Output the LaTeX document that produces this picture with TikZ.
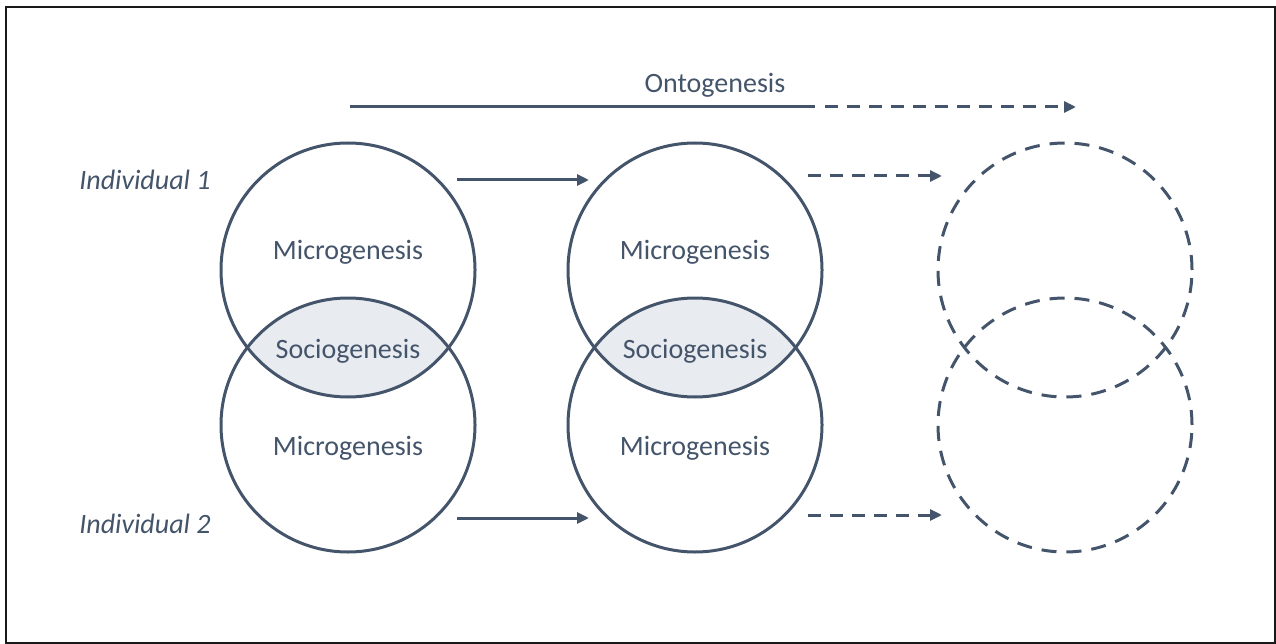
\documentclass[tikz,border=0pt]{standalone}
\usepackage{fontspec}
\setmainfont{Carlito}
\usetikzlibrary{arrows.meta}
\definecolor{ink}{HTML}{44546A}
\definecolor{lens}{HTML}{E8EBF0}
\begin{document}
\begin{tikzpicture}[x=1pt,y=-1pt,
  ring/.style={circle,draw=ink,line width=3pt,minimum size=254pt,inner sep=0pt},
  ghost/.style={ring,dash pattern=on 15pt off 10pt},
  flow/.style={draw=ink,line width=3pt,-{Triangle[length=12pt,width=11pt]}},
  dflow/.style={flow,dash pattern=on 13pt off 9pt},
  lbl/.style={text=ink,font=\fontsize{28}{32}\selectfont,inner sep=0pt},
  side/.style={lbl,font=\fontsize{28}{32}\selectfont\itshape}]
\useasboundingbox (0,0) rectangle (1276,644);
\draw[line width=2pt,black!90] (6,7) rectangle (1275,643);

% shaded overlaps of the paired circles
\foreach \cx in {348,695}{
  \begin{scope}
    \clip (\cx,270) circle (127);
    \fill[lens] (\cx,425) circle (127);
  \end{scope}}

% circles
\node[ring]  (a1) at (348,270) {};
\node[ring]  (a2) at (348,425) {};
\node[ring]  (b1) at (695,270) {};
\node[ring]  (b2) at (695,425) {};
\node[ghost] (c1) at (1065,270) {};
\node[ghost] (c2) at (1065,425) {};

% labels inside the circles
\node[lbl] (ma1) at (348,252) {Microgenesis};
\node[lbl] (ma2) at (348,448) {Microgenesis};
\node[lbl] (mb1) at (695,252) {Microgenesis};
\node[lbl] (mb2) at (695,448) {Microgenesis};
\node[lbl] (sa)  at (348,351) {Sociogenesis};
\node[lbl] (sb)  at (695,351) {Sociogenesis};

% side labels
\node[side] (i1) at (145,180) {Individual 1};
\node[side] (i2) at (145,524) {Individual 2};

% ontogenesis axis
\node[lbl] (onto) at (715,85) {Ontogenesis};
\coordinate (o0) at (350,107);
\coordinate (o1) at (815,107);
\coordinate (o1b) at (825,107);
\coordinate (o2) at (1076,107);
\draw[draw=ink,line width=3pt] (o0) -- (o1);
\draw[dflow] (o1b) -- (o2);

% transitions between stages
\coordinate (t1s) at (457,180); \coordinate (t1e) at (589,180);
\coordinate (t2s) at (457,518); \coordinate (t2e) at (589,518);
\coordinate (u1s) at (808,176); \coordinate (u1e) at (942,176);
\coordinate (u2s) at (808,515); \coordinate (u2e) at (942,515);
\draw[flow]  (t1s) -- (t1e);
\draw[flow]  (t2s) -- (t2e);
\draw[dflow] (u1s) -- (u1e);
\draw[dflow] (u2s) -- (u2e);
\end{tikzpicture}
\end{document}
